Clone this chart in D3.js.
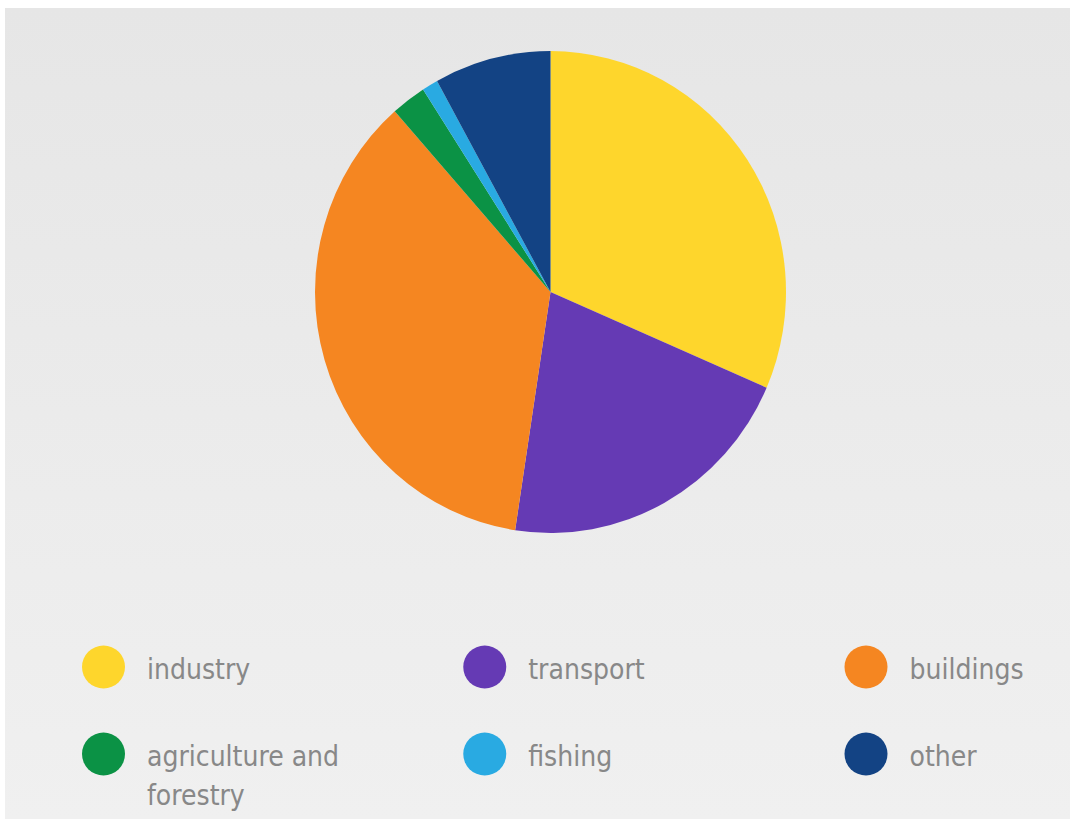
<!DOCTYPE html>
<html>
<head>
<meta charset="utf-8">
<script src="https://cdn.jsdelivr.net/npm/d3@7/dist/d3.min.js"></script>
<style>
  html, body { margin: 0; padding: 0; background: #ffffff; }
  svg { display: block; }
</style>
</head>
<body>
<svg id="chart" width="1071" height="820"></svg>
<script>
// Final energy use by sector (share, %)
const categories = ["industry", "transport", "buildings", "agriculture and forestry", "fishing", "other"];
const values = [31.5, 20.9, 36.1, 2.4, 1.1, 8.0];
const colors = ["#fed62c", "#653ab4", "#f58621", "#0b9245", "#29aae2", "#134384"];
// legend text, wrapped as drawn
const legendLines = [["industry"], ["transport"], ["buildings"], ["agriculture and", "forestry"], ["fishing"], ["other"]];

const svg = d3.select("#chart");

// panel background with a soft vertical gradient
const defs = svg.append("defs");
const grad = defs.append("linearGradient").attr("id", "bg").attr("x1", 0).attr("y1", 0).attr("x2", 0).attr("y2", 1);
grad.append("stop").attr("offset", "0%").attr("stop-color", "#e6e6e6");
grad.append("stop").attr("offset", "100%").attr("stop-color", "#f0f0f0");
svg.append("rect").attr("x", 5).attr("y", 8).attr("width", 1065).attr("height", 811).attr("fill", "url(#bg)");

// pie
const cx = 550.5, cy = 292, r = 235.5;
const pie = d3.pie().sort(null).value(d => d.value);
const arc = d3.arc().innerRadius(0).outerRadius(r);
const data = categories.map((c, i) => ({ name: c, value: values[i] }));
const color = d3.scaleOrdinal().domain(categories).range(colors);

svg.append("g")
  .attr("transform", `translate(${cx},${cy}) scale(1,1.023)`)
  .selectAll("path")
  .data(pie(data))
  .join("path")
  .attr("d", arc)
  .attr("fill", d => color(d.data.name));

// legend: 3 columns x 2 rows
const colX = d3.scalePoint().domain([0, 1, 2]).range([103.5, 866]);
const rowY = d3.scalePoint().domain([0, 1]).range([667, 754]);

const items = svg.append("g").selectAll("g")
  .data(categories)
  .join("g")
  .attr("transform", (d, i) => `translate(${colX(i % 3)},${rowY(Math.floor(i / 3))})`);

items.append("circle").attr("r", 21.5).attr("fill", d => color(d));

items.append("text")
  .attr("x", 43.5)
  .attr("y", 12)
  .attr("font-family", "'DejaVu Sans Condensed', 'DejaVu Sans', sans-serif")
  .attr("font-size", 28)
  .attr("fill", "#888888")
  .selectAll("tspan")
  .data((d, i) => legendLines[i])
  .join("tspan")
  .attr("x", 43.5)
  .attr("dy", (d, j) => j === 0 ? 0 : 39)
  .text(d => d);
</script>
</body>
</html>
